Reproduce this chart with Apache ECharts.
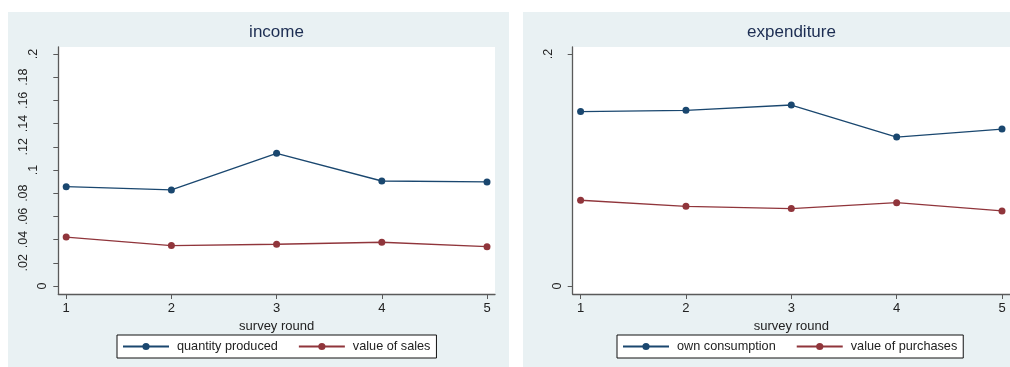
<!DOCTYPE html>
<html>
<head>
<meta charset="utf-8">
<script src="https://cdn.jsdelivr.net/npm/echarts@6/dist/echarts.min.js"></script>
<style>
  html, body { margin: 0; padding: 0; background: #ffffff; }
  #chart { width: 1010px; height: 367px; }
</style>
</head>
<body>
<div id="chart"></div>
<script>
// Survey rounds on the x axis
const rounds = [1, 2, 3, 4, 5];

// Income panel
const quantityProduced = [0.0856, 0.0828, 0.1144, 0.0905, 0.0897];
const valueOfSales = [0.0422, 0.0348, 0.0360, 0.0377, 0.0339];

// Expenditure panel
const ownConsumption = [0.1503, 0.1514, 0.1560, 0.1284, 0.1353];
const valueOfPurchases = [0.0739, 0.0687, 0.0667, 0.0718, 0.0647];

// Tick values and their labels
const incomeTicks = [0, 0.02, 0.04, 0.06, 0.08, 0.1, 0.12, 0.14, 0.16, 0.18, 0.2];
const incomeTickLabels = ['0', '.02', '.04', '.06', '.08', '.1', '.12', '.14', '.16', '.18', '.2'];
const expenditureTicks = [0, 0.2];
const expenditureTickLabels = ['0', '.2'];

const BLUE = '#1a476f';
const RED = '#90353b';
const PANEL_BG = '#e9f1f3';
const AXIS_COLOR = '#5a5a5a';
const FONT = '"Liberation Sans", Arial, sans-serif';

function labelFor(ticks, labels) {
  return function (v) {
    for (let i = 0; i < ticks.length; i++) {
      if (Math.abs(ticks[i] - v) < 1e-9) {
        const s = labels[i];
        return '{s' + Math.min(s.length, 3) + '|' + s + '}';
      }
    }
    return '';
  };
}

// Rotated value labels sit further from the axis the longer they are
const yRich = {
  s1: { padding: [0, 0, 0, 0] },
  s2: { padding: [0, 0, 9, 0] },
  s3: { padding: [0, 0, 19, 0] }
};

function makeXAxis(gridIndex) {
  return {
    type: 'value',
    gridIndex: gridIndex,
    min: 0.925,
    max: 5.076,
    name: 'survey round',
    nameLocation: 'middle',
    nameGap: 19,
    nameTextStyle: { color: '#222', fontSize: 13, fontFamily: FONT },
    axisLine: { show: true, onZero: false, lineStyle: { color: AXIS_COLOR, width: 1.3 } },
    axisTick: { show: true, length: 5, customValues: rounds, lineStyle: { color: AXIS_COLOR, width: 1 } },
    axisLabel: {
      customValues: rounds,
      margin: 8,
      color: '#222',
      fontSize: 13,
      fontFamily: FONT,
      showMinLabel: true,
      showMaxLabel: true
    },
    splitLine: { show: false }
  };
}

function makeYAxis(gridIndex, ticks, labels) {
  return {
    type: 'value',
    gridIndex: gridIndex,
    min: -0.0069,
    max: 0.206,
    axisLine: { show: true, onZero: false, lineStyle: { color: AXIS_COLOR, width: 1.3 } },
    axisTick: { show: true, length: 5, customValues: ticks, lineStyle: { color: AXIS_COLOR, width: 1 } },
    axisLabel: {
      customValues: ticks,
      rotate: 90,
      margin: 9,
      color: '#222',
      fontSize: 12.5,
      fontFamily: FONT,
      formatter: labelFor(ticks, labels),
      rich: yRich
    },
    splitLine: { show: false }
  };
}

function pairs(values) {
  return rounds.map((r, i) => [r, values[i]]);
}

function lineSeries(name, values, color, axisIndex) {
  return {
    type: 'line',
    name: name,
    xAxisIndex: axisIndex,
    yAxisIndex: axisIndex,
    data: pairs(values),
    symbol: 'circle',
    symbolSize: 7,
    showSymbol: true,
    lineStyle: { color: color, width: 1.3 },
    itemStyle: { color: color },
    emphasis: { disabled: true },
    animation: false
  };
}

function makeLegend(left, names) {
  return {
    left: left,
    top: 335,
    orient: 'horizontal',
    data: names,
    itemWidth: 46,
    itemHeight: 9,
    itemGap: 20,
    padding: [5, 6, 5, 5],
    backgroundColor: '#ffffff',
    borderColor: '#111',
    borderWidth: 1,
    borderRadius: 0,
    selectedMode: false,
    textStyle: { color: '#222', fontSize: 12.7, fontFamily: FONT, padding: [0, 0, 0, 3] }
  };
}

const chart = echarts.init(document.getElementById('chart'), null, { renderer: 'canvas' });

chart.setOption({
  animation: false,
  backgroundColor: '#ffffff',
  graphic: [
    { type: 'rect', z: -10, shape: { x: 8, y: 12, width: 501, height: 355 }, style: { fill: PANEL_BG } },
    { type: 'rect', z: -10, shape: { x: 523, y: 12, width: 487, height: 355 }, style: { fill: PANEL_BG } }
  ],
  title: [
    { text: 'income', left: 276.5, top: 24, textAlign: 'center', padding: 0,
      textStyle: { color: '#1c2d52', fontSize: 17, fontWeight: 'normal', fontFamily: FONT } },
    { text: 'expenditure', left: 791.5, top: 24, textAlign: 'center', padding: 0,
      textStyle: { color: '#1c2d52', fontSize: 17, fontWeight: 'normal', fontFamily: FONT } }
  ],
  grid: [
    { left: 58.3, top: 47, width: 436.7, height: 247, show: true, backgroundColor: '#ffffff', borderWidth: 0, containLabel: false },
    { left: 572.7, top: 47, width: 437.3, height: 247, show: true, backgroundColor: '#ffffff', borderWidth: 0, containLabel: false }
  ],
  xAxis: [makeXAxis(0), makeXAxis(1)],
  yAxis: [
    makeYAxis(0, incomeTicks, incomeTickLabels),
    makeYAxis(1, expenditureTicks, expenditureTickLabels)
  ],
  legend: [
    makeLegend(117, ['quantity produced', 'value of sales']),
    makeLegend(617, ['own consumption', 'value of purchases'])
  ],
  series: [
    lineSeries('quantity produced', quantityProduced, BLUE, 0),
    lineSeries('value of sales', valueOfSales, RED, 0),
    lineSeries('own consumption', ownConsumption, BLUE, 1),
    lineSeries('value of purchases', valueOfPurchases, RED, 1)
  ]
});
</script>
</body>
</html>
